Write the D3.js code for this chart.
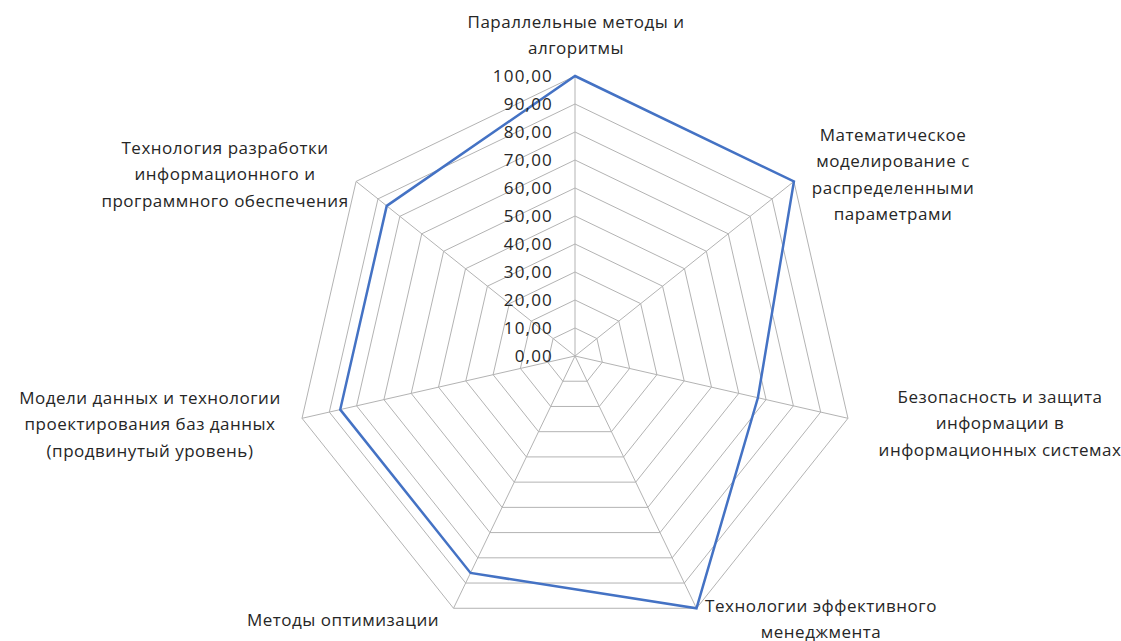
<!DOCTYPE html>
<html lang="ru">
<head>
  <meta charset="UTF-8">
  <title>Radar</title>
  <script src="https://d3js.org/d3.v7.min.js"></script>
  <style>
    body { margin: 0; background: #fff; }
    .grid { fill: none; stroke: #b3b3b3; stroke-width: 1; }
    .spoke { stroke: #b3b3b3; stroke-width: 1; }
    .series { fill: none; stroke: #4472c4; stroke-width: 2.5; stroke-linejoin: miter; }
    text { font-family: "Open Sans", sans-serif; font-size: 17px; letter-spacing: 0.5px; fill: #262626; }
    .tick { letter-spacing: 1.2px; }
  </style>
</head>
<body>
<script>
  // categories (axis names), split into the lines shown on the chart
  var categories = [
    ["Параллельные методы и", "алгоритмы"],
    ["Математическое", "моделирование с", "распределенными", "параметрами"],
    ["Безопасность и защита", "информации в", "информационных системах"],
    ["Технологии эффективного", "менеджмента"],
    ["Методы оптимизации"],
    ["Модели данных и технологии", "проектирования баз данных", "(продвинутый уровень)"],
    ["Технология разработки", "информационного и", "программного обеспечения"]
  ];
  var values = [100, 100, 67, 100, 86, 86, 86];
  var ticks = [0, 10, 20, 30, 40, 50, 60, 70, 80, 90, 100];

  // label centres (layout only)
  var labelPos = [
    [576, 22], [893, 135], [1000, 397], [821, 606], [343, 620], [150, 398], [225, 148]
  ];

  var width = 1121, height = 641;
  var cx = 575, cy = 356, R = 280;
  var n = categories.length;

  var r = d3.scaleLinear().domain([0, 100]).range([0, R]);
  var angle = function(i) { return i * 2 * Math.PI / n; };
  var pt = function(i, v) {
    return [cx + r(v) * Math.sin(angle(i)), cy - r(v) * Math.cos(angle(i))];
  };

  var svg = d3.select("body").append("svg")
    .attr("width", width)
    .attr("height", height);

  // polygon grid
  svg.selectAll(".grid")
    .data(ticks.slice(1))
    .enter().append("polygon")
    .attr("class", "grid")
    .attr("points", function(t) {
      return d3.range(n).map(function(i) { return pt(i, t).join(","); }).join(" ");
    });

  // spokes
  svg.selectAll(".spoke")
    .data(d3.range(n))
    .enter().append("line")
    .attr("class", "spoke")
    .attr("x1", cx).attr("y1", cy)
    .attr("x2", function(i) { return pt(i, 100)[0]; })
    .attr("y2", function(i) { return pt(i, 100)[1]; });

  // series
  var line = d3.line().curve(d3.curveLinearClosed);
  svg.append("path")
    .attr("class", "series")
    .attr("d", line(values.map(function(v, i) { return pt(i, v); })));

  // tick labels
  var fmt = function(v) { return d3.format(".2f")(v).replace(".", ","); };
  svg.selectAll(".tick")
    .data(ticks)
    .enter().append("text")
    .attr("class", "tick")
    .attr("x", cx - 22)
    .attr("y", function(t) { return cy - r(t); })
    .attr("dy", "0.35em")
    .attr("text-anchor", "end")
    .text(fmt);

  // category labels
  categories.forEach(function(lines, i) {
    var t = svg.append("text")
      .attr("text-anchor", "middle")
      .attr("x", labelPos[i][0])
      .attr("y", labelPos[i][1]);
    lines.forEach(function(s, k) {
      t.append("tspan")
        .attr("x", labelPos[i][0])
        .attr("y", labelPos[i][1] + k * 26.3)
        .attr("dy", "0.35em")
        .text(s);
    });
  });
</script>
</body>
</html>
